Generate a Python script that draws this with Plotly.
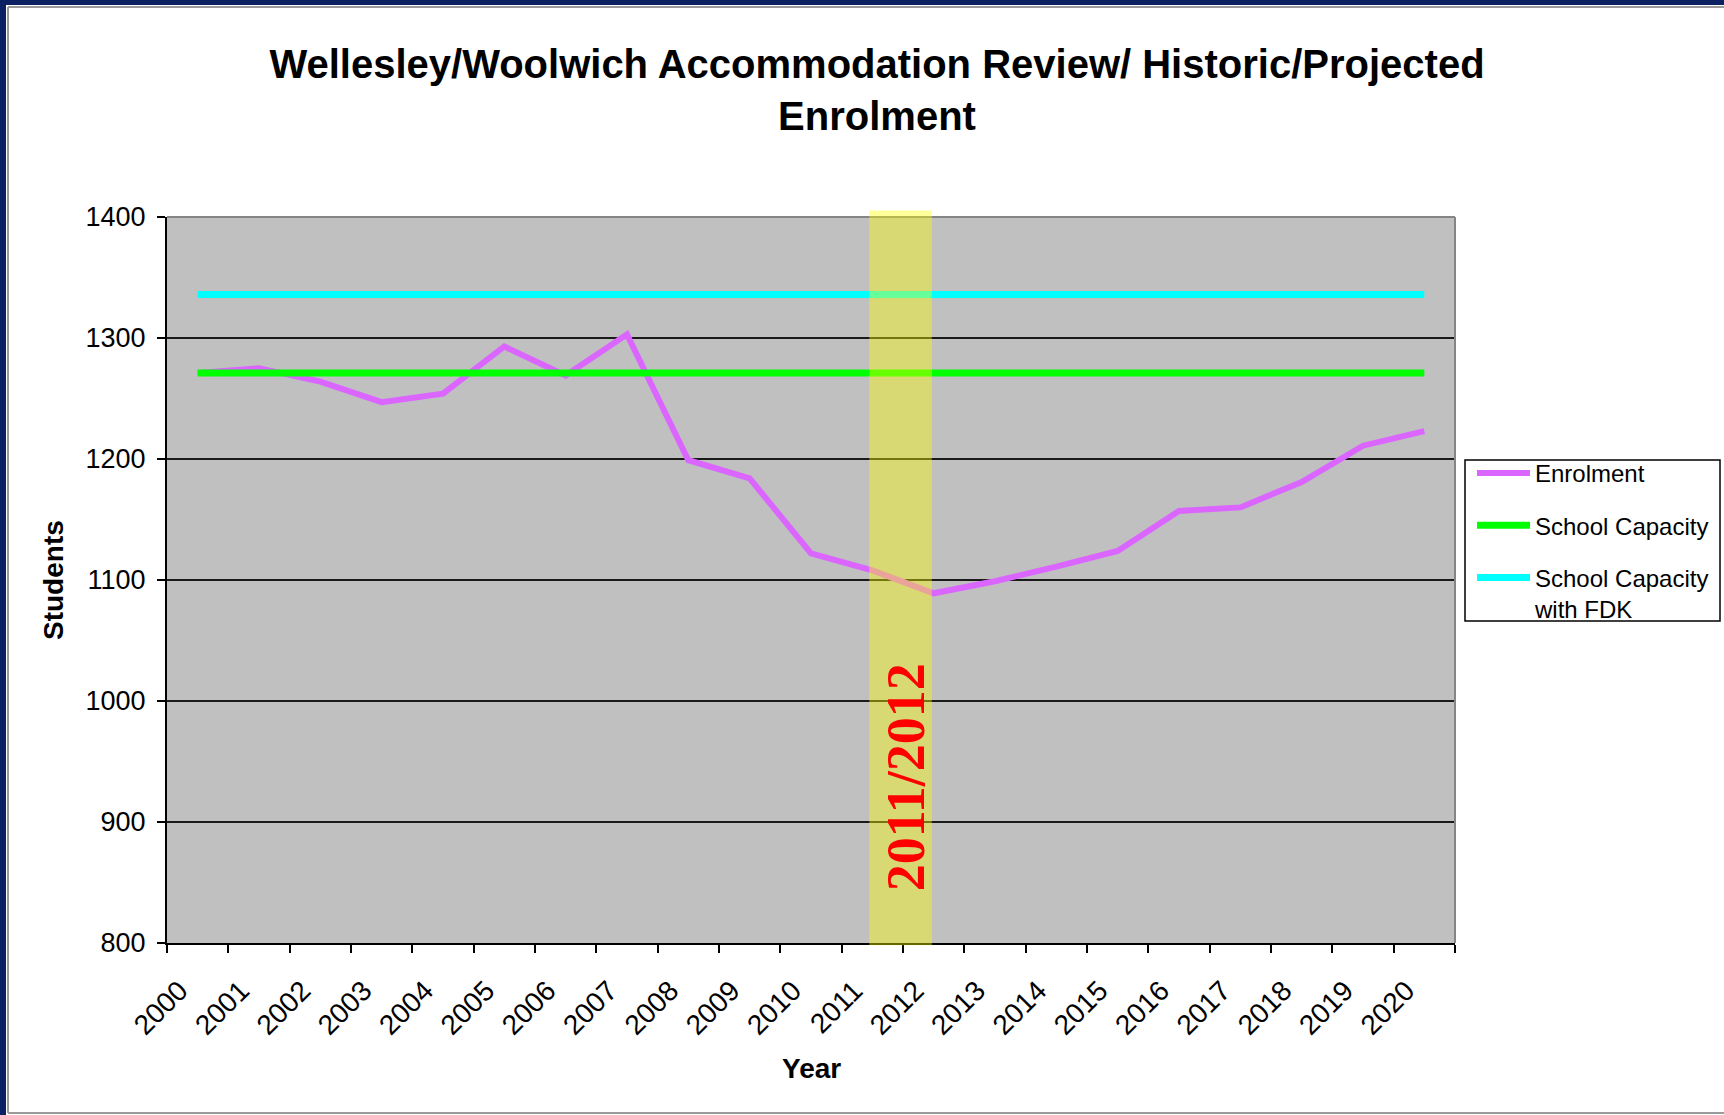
import plotly.graph_objects as go

# ---------------- data ----------------
years = ["2000", "2001", "2002", "2003", "2004", "2005", "2006", "2007", "2008", "2009", "2010",
         "2011", "2012", "2013", "2014", "2015", "2016", "2017", "2018", "2019", "2020"]
enrolment = [1271, 1275, 1264, 1247, 1254, 1293, 1269, 1303, 1199, 1184, 1122,
             1108, 1089, 1099, 1111, 1124, 1157, 1160, 1181, 1211, 1223]
school_capacity = [1271, 1271, 1271, 1271, 1271, 1271, 1271, 1271, 1271, 1271, 1271,
                   1271, 1271, 1271, 1271, 1271, 1271, 1271, 1271, 1271, 1271]
capacity_fdk = [1336, 1336, 1336, 1336, 1336, 1336, 1336, 1336, 1336, 1336, 1336,
                1336, 1336, 1336, 1336, 1336, 1336, 1336, 1336, 1336, 1336]
y_ticks = [800, 900, 1000, 1100, 1200, 1300, 1400]
highlight_label = "2011/2012"

# ---------------- layout geometry ----------------
FW, FH = 1724, 1115
ML, MR, MT, MB = 167, 269, 217, 172
PW = FW - ML - MR
PH = FH - MT - MB


def px2x(px):
    return (px - ML) / PW


def py2y(py):
    return (FH - MB - py) / PH


FONT = "Arial, Liberation Sans, sans-serif"

fig = go.Figure()
fig.add_trace(go.Scatter(x=years, y=enrolment, mode="lines", name="Enrolment",
                         line=dict(color="#DA66FF", width=6), legendgroup="a"))
fig.add_trace(go.Scatter(x=years, y=school_capacity, mode="lines", name="School Capacity",
                         line=dict(color="#00FF00", width=7), legendgroup="b"))
fig.add_trace(go.Scatter(x=years, y=capacity_fdk, mode="lines", name="School Capacity<br>with FDK",
                         line=dict(color="#00FFFF", width=7), legendgroup="c"))

shapes = [
    # navy frame strips
    dict(type="rect", xref="paper", yref="paper", x0=px2x(0), x1=px2x(6), y0=py2y(FH), y1=py2y(0),
         fillcolor="#0c2163", line=dict(width=0), layer="below"),
    dict(type="rect", xref="paper", yref="paper", x0=px2x(0), x1=px2x(FW), y0=py2y(5), y1=py2y(0),
         fillcolor="#0c2163", line=dict(width=0), layer="below"),
    # chart-area border
    dict(type="line", xref="paper", yref="paper", x0=px2x(8), x1=px2x(8), y0=py2y(7), y1=py2y(1113),
         line=dict(color="#9a9a9a", width=2), layer="below"),
    dict(type="line", xref="paper", yref="paper", x0=px2x(8), x1=px2x(FW), y0=py2y(7), y1=py2y(7),
         line=dict(color="#9a9a9a", width=2), layer="below"),
    dict(type="line", xref="paper", yref="paper", x0=px2x(8), x1=px2x(FW), y0=py2y(1113), y1=py2y(1113),
         line=dict(color="#9a9a9a", width=2), layer="below"),
    # plot-area top and right border (gray)
    dict(type="line", xref="paper", yref="paper", x0=0, x1=1, y0=1, y1=1,
         line=dict(color="#858585", width=2), layer="above"),
    dict(type="line", xref="paper", yref="paper", x0=1, x1=1, y0=0, y1=1,
         line=dict(color="#858585", width=2), layer="above"),
    # highlight band
    dict(type="rect", xref="x", yref="paper", x0=10.95, x1=11.97, y0=-0.003, y1=1.009,
         fillcolor="rgba(255,255,0,0.4)", line=dict(width=0), layer="above"),
    # legend box
    dict(type="rect", xref="paper", yref="paper", x0=px2x(1465), x1=px2x(1720), y0=py2y(621), y1=py2y(460),
         fillcolor="white", line=dict(color="black", width=1.5), layer="above"),
]

annotations = [
    dict(text="<b>" + highlight_label + "</b>", x=11.55, y=937, xref="x", yref="y",
         textangle=-90, showarrow=False,
         font=dict(family="Times New Roman, Liberation Serif, serif", size=54, color="#FF0000")),
    dict(text="<b>Year</b>", x=0.5, y=py2y(1068), xref="paper", yref="paper", showarrow=False,
         font=dict(family=FONT, size=28, color="black"), xanchor="center", yanchor="middle"),
    dict(text="<b>Students</b>", x=px2x(53), y=0.5, xref="paper", yref="paper", showarrow=False,
         textangle=-90, font=dict(family=FONT, size=28, color="black"), xanchor="center", yanchor="middle"),
]

fig.update_layout(
    width=FW, height=FH,
    margin=dict(l=ML, r=MR, t=MT, b=MB, pad=0, autoexpand=False),
    paper_bgcolor="white",
    plot_bgcolor="#C0C0C0",
    title=dict(text="<b>Wellesley/Woolwich Accommodation Review/ Historic/Projected<br>Enrolment</b>",
               x=877 / FW, xanchor="center", xref="container",
               y=1 - 78 / FH, yanchor="middle",
               font=dict(family=FONT, size=40, color="black")),
    font=dict(family=FONT, color="black"),
    showlegend=True,
    legend=dict(x=px2x(1472), y=py2y(451), xanchor="left", yanchor="top",
                bgcolor="rgba(0,0,0,0)", borderwidth=0,
                font=dict(family=FONT, size=24, color="black"),
                itemwidth=53,
                tracegroupgap=18, valign="top", traceorder="grouped"),
    shapes=shapes,
    annotations=annotations,
)

fig.update_xaxes(type="category", range=[-0.5, 20.5], tickson="boundaries", dtick=1,
                 ticks="outside", ticklen=8, tickwidth=1.5, tickcolor="black",
                 tickangle=-45, tickfont=dict(family=FONT, size=28, color="black"),
                 ticklabelstandoff=18, ticklabelshift=-18,
                 showline=True, linecolor="black", linewidth=2, showgrid=False,
                 zeroline=False, automargin=False)
fig.update_yaxes(range=[800, 1400], tickvals=y_ticks, ticks="outside", ticklen=8, tickwidth=1.5,
                 tickcolor="black", tickfont=dict(family=FONT, size=27, color="black"),
                 ticklabelstandoff=6,
                 showline=True, linecolor="black", linewidth=2,
                 showgrid=True, gridcolor="#1a1a1a", gridwidth=2, zeroline=False, automargin=False)

fig.write_html("out.html", config={"displayModeBar": False},
               post_script="document.body.style.margin='0';document.body.style.overflow='hidden';")
